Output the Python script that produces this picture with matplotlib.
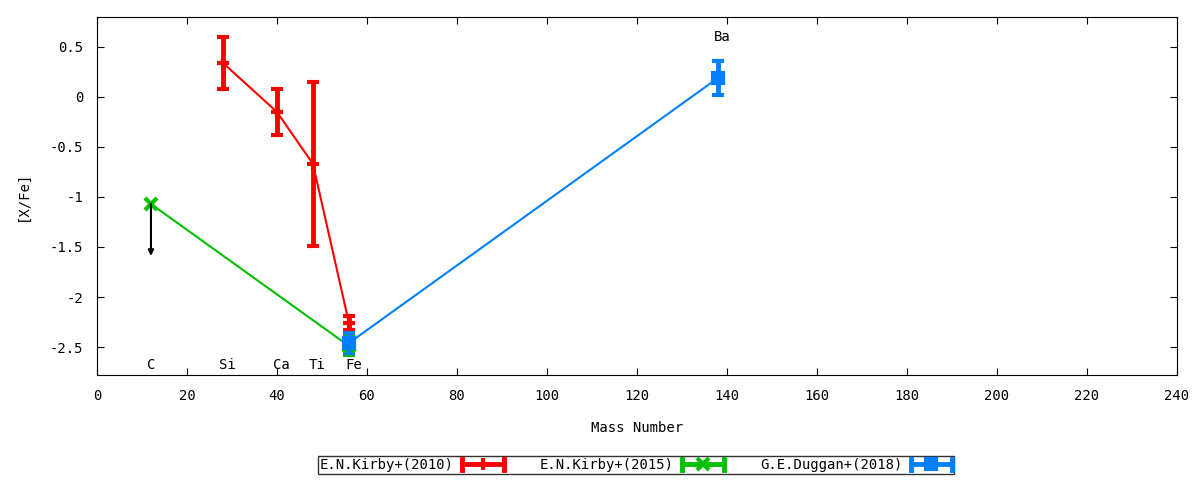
import matplotlib
matplotlib.use("Agg")
import matplotlib.pyplot as plt
from matplotlib.lines import Line2D
from matplotlib.legend_handler import HandlerBase

plt.rcParams['font.family'] = ['DejaVu Sans Mono']
plt.rcParams['axes.unicode_minus'] = False

# E.N.Kirby+(2010)
k10_mass = [28, 40, 48, 56]
k10_val = [0.34, -0.15, -0.67, -2.26]
k10_err = [0.26, 0.23, 0.82, 0.07]

# E.N.Kirby+(2015)
k15_mass = [12, 56]
k15_val = [-1.07, -2.49]
k15_err = [float("nan"), 0.09]

# G.E.Duggan+(2018)
d18_mass = [56, 138]
d18_val = [-2.46, 0.19]
d18_err = [0.10, 0.17]

# element labels
el_names = ["C", "Si", "Ca", "Ti", "Fe", "Ba"]
el_x = [12, 29, 41, 49, 57, 139]
el_y = [-2.68, -2.68, -2.68, -2.68, -2.68, 0.6]

colors = ["#ff0000", "#00c000", "#0080ff"]
markers = ["+", "x", "s"]
labels = ["E.N.Kirby+(2010)", "E.N.Kirby+(2015)", "G.E.Duggan+(2018)"]


class ErrHandler(HandlerBase):
    # gnuplot style key sample: horizontal bar with end caps and the point
    def create_artists(self, legend, orig, xd, yd, w, h, fs, trans):
        c = orig.get_color()
        m = orig.get_marker()
        y = yd + h / 2
        line = Line2D([xd, xd + w], [y, y], color=c, lw=3.5, transform=trans)
        cap1 = Line2D([xd, xd], [y - 4, y + 4], color=c, lw=3.5, transform=trans)
        cap2 = Line2D([xd + w, xd + w], [y - 4, y + 4], color=c, lw=3.5, transform=trans)
        pt = Line2D([xd + w / 2], [y], color=c, marker=m, ms=orig.get_markersize(),
                    mew=3, lw=0, transform=trans)
        return [line, cap1, cap2, pt]


fig = plt.figure(figsize=(12, 4.8), dpi=100)
ax = fig.add_axes([0.0808, 0.2187, 0.9, 0.746])

data = [(k10_mass, k10_val, k10_err), (k15_mass, k15_val, k15_err), (d18_mass, d18_val, d18_err)]
for (mx, my, me), c, m in zip(data, colors, markers):
    ms = 7 if m == "s" else 8
    ax.errorbar(mx, my, yerr=me, color=c, lw=1.5, elinewidth=3.5, capsize=4,
                capthick=3.5, marker=m, ms=ms, mew=3)

# upper limit for C
ax.annotate("", xy=(k15_mass[0], k15_val[0] - 0.52), xytext=(k15_mass[0], k15_val[0]),
            arrowprops=dict(arrowstyle="-|>", color="black", lw=1.5,
                            mutation_scale=8, shrinkA=0, shrinkB=0))

for name, x, y in zip(el_names, el_x, el_y):
    ax.text(x, y, name, ha="center", va="center", fontsize=10)

ax.set_xlim(0, 240)
ax.set_ylim(-2.78, 0.8)
ax.set_xticks(range(0, 241, 20))
ax.set_yticks([-2.5, -2, -1.5, -1, -0.5, 0, 0.5])
ax.set_yticklabels(["-2.5", "-2", "-1.5", "-1", "-0.5", "0", "0.5"])
ax.tick_params(direction="in", top=True, right=True, labelsize=10, pad=10, length=5)
ax.set_xlabel("Mass Number", fontsize=10, labelpad=13)
ax.set_ylabel("[X/Fe]", fontsize=10, labelpad=14)

handles = [Line2D([], [], color=c, marker=m, ms=(7 if m == "s" else 8))
           for c, m in zip(colors, markers)]
leg = ax.legend(handles, labels, loc="center", bbox_to_anchor=(0.53, 0.031),
                bbox_transform=fig.transFigure, ncol=3, markerfirst=False,
                frameon=True, fancybox=False, edgecolor="black", fontsize=10,
                handlelength=3.0, columnspacing=2.6, borderpad=0.15, handletextpad=0.6,
                borderaxespad=0, handler_map={Line2D: ErrHandler()})
leg.get_frame().set_linewidth(1)

fig.savefig("out.png", dpi=100)
